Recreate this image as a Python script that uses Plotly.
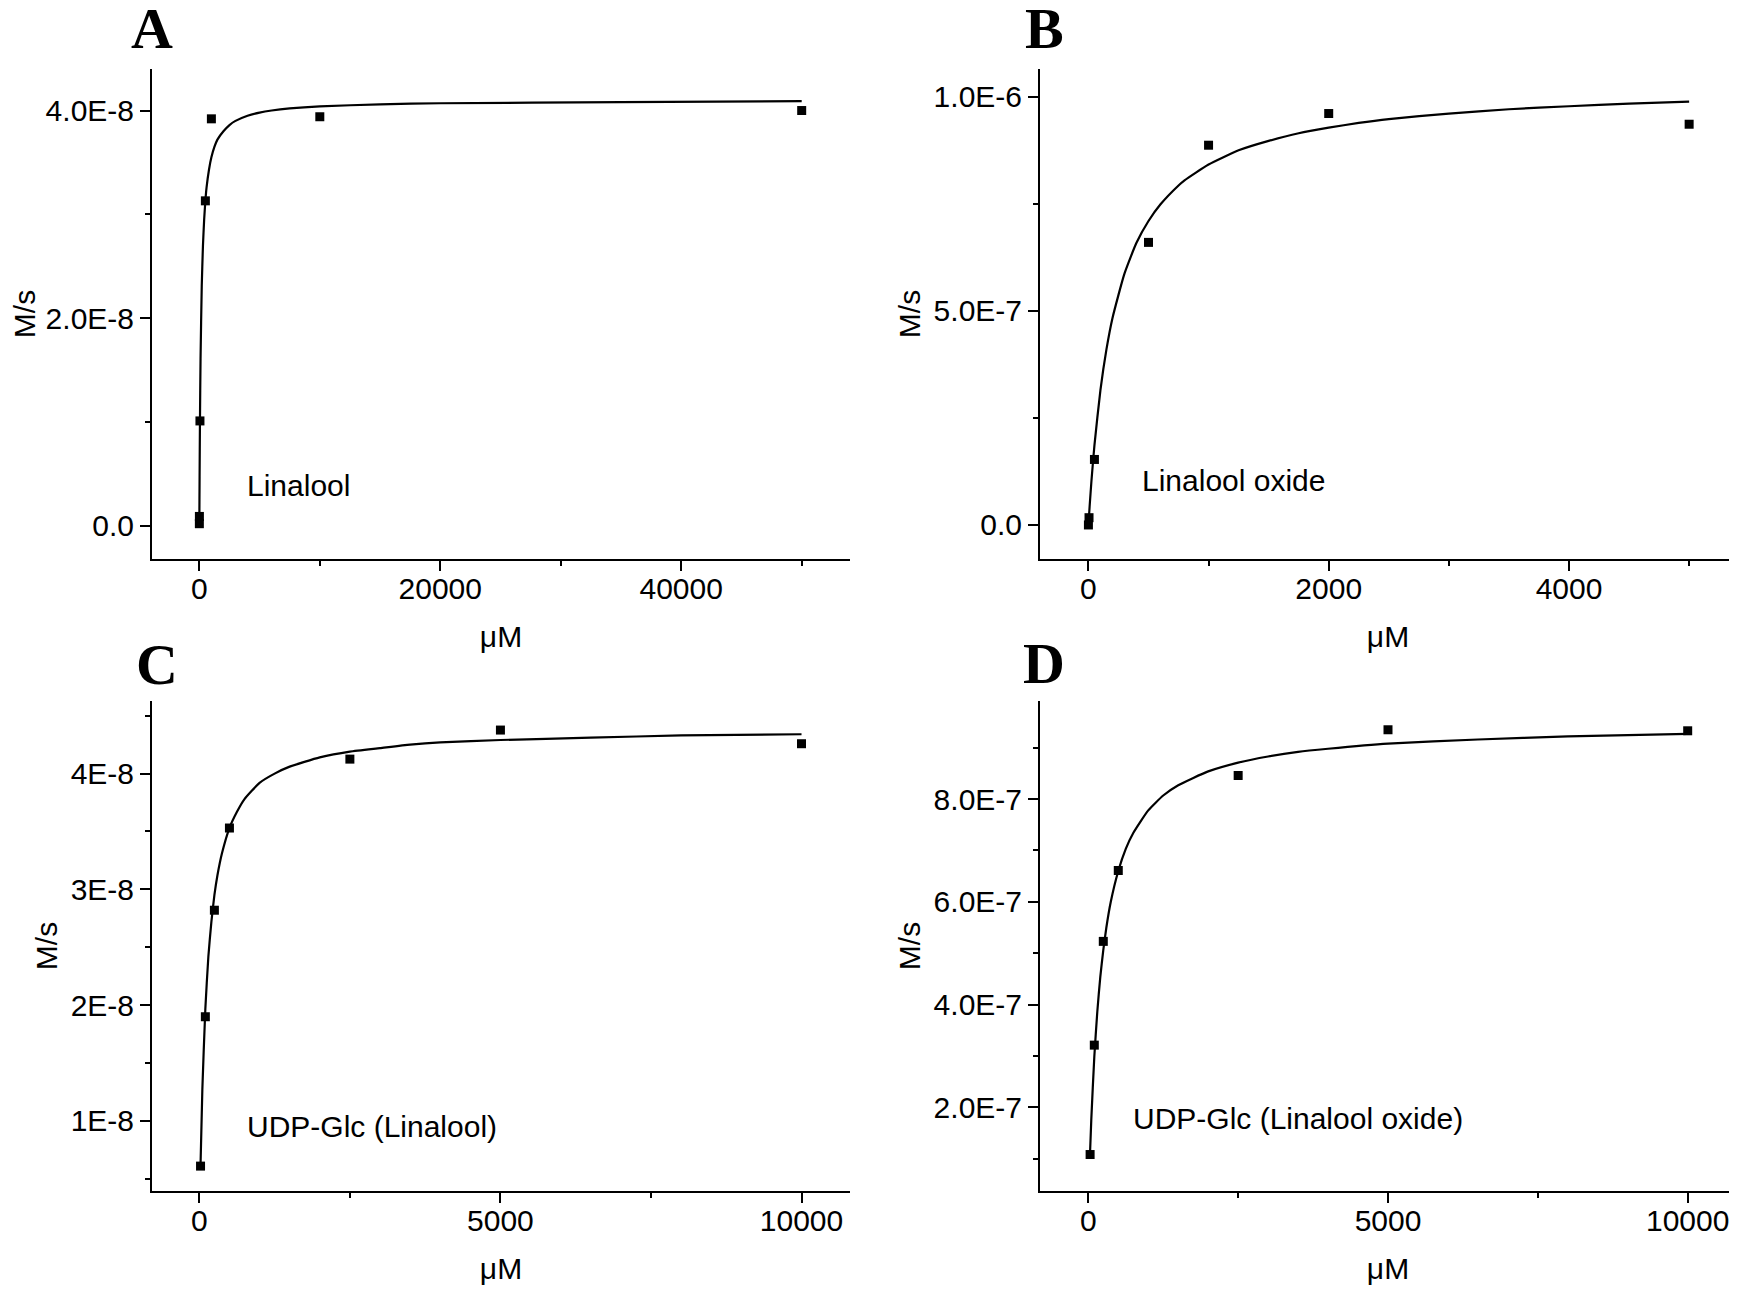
import plotly.graph_objects as go

# ---- data ----
# A: Linalool
a_x = [1, 5, 50, 500, 1000, 10000, 50000]
a_y = [0.02e-8, 0.09e-8, 1.01e-8, 3.13e-8, 3.92e-8, 3.94e-8, 4.00e-8]
a_fit_x = [0, 5, 10, 20, 50, 100, 200, 300, 400, 500, 600, 800, 1000, 1250,
           1500, 2000, 2500, 3000, 4000, 5000, 6000, 7500, 10000, 15000,
           20000, 35000, 50000]
a_fit_y = [0.0, 0.13e-8, 0.25e-8, 0.47e-8, 1.00e-8, 1.61e-8, 2.31e-8, 2.70e-8,
           2.95e-8, 3.13e-8, 3.26e-8, 3.43e-8, 3.55e-8, 3.65e-8, 3.72e-8,
           3.80e-8, 3.86e-8, 3.90e-8, 3.95e-8, 3.98e-8, 4.00e-8, 4.02e-8,
           4.04e-8, 4.06e-8, 4.07e-8, 4.08e-8, 4.09e-8]

# B: Linalool oxide
b_x = [0, 5, 50, 500, 1000, 2000, 5000]
b_y = [0.0, 0.17e-7, 1.53e-7, 6.60e-7, 8.87e-7, 9.61e-7, 9.36e-7]
b_fit_x = [0, 10, 25, 50, 100, 150, 200, 300, 400, 500, 600, 750, 800, 1000,
           1250, 1500, 1750, 2000, 2250, 2500, 3000, 3500, 4000, 4500, 5000]
b_fit_y = [0.0, 0.43e-7, 1.02e-7, 1.86e-7, 3.15e-7, 4.10e-7, 4.83e-7, 5.87e-7,
           6.59e-7, 7.10e-7, 7.49e-7, 7.93e-7, 8.05e-7, 8.42e-7, 8.75e-7,
           8.97e-7, 9.15e-7, 9.28e-7, 9.39e-7, 9.48e-7, 9.61e-7, 9.71e-7,
           9.78e-7, 9.84e-7, 9.89e-7]

# C: UDP-Glc (Linalool)
c_x = [20, 100, 250, 500, 2500, 5000, 10000]
c_y = [0.61e-8, 1.90e-8, 2.82e-8, 3.53e-8, 4.125e-8, 4.376e-8, 4.258e-8]
c_fit_x = [20, 50, 100, 150, 200, 250, 300, 375, 500, 625, 750, 1000, 1250,
           1500, 2000, 2500, 3000, 3500, 4000, 5000, 6500, 8000, 10000]
c_fit_y = [0.62e-8, 1.27e-8, 1.97e-8, 2.42e-8, 2.72e-8, 2.95e-8, 3.12e-8,
           3.31e-8, 3.53e-8, 3.67e-8, 3.78e-8, 3.92e-8, 4.00e-8, 4.06e-8,
           4.14e-8, 4.19e-8, 4.22e-8, 4.25e-8, 4.27e-8, 4.29e-8, 4.31e-8,
           4.33e-8, 4.34e-8]

# D: UDP-Glc (Linalool oxide)
d_x = [30, 100, 250, 500, 2500, 5000, 10000]
d_y = [1.08e-7, 3.21e-7, 5.23e-7, 6.61e-7, 8.46e-7, 9.35e-7, 9.33e-7]
d_fit_x = [30, 50, 100, 150, 200, 250, 300, 375, 500, 625, 750, 1000, 1250,
           1500, 2000, 2500, 3000, 3500, 4000, 5000, 6500, 8000, 10000]
d_fit_y = [1.15e-7, 1.77e-7, 2.98e-7, 3.86e-7, 4.54e-7, 5.06e-7, 5.49e-7,
           6.00e-7, 6.60e-7, 7.03e-7, 7.34e-7, 7.78e-7, 8.07e-7, 8.27e-7,
           8.54e-7, 8.71e-7, 8.83e-7, 8.92e-7, 8.98e-7, 9.08e-7, 9.16e-7,
           9.22e-7, 9.27e-7]

panel_letters = ["A", "B", "C", "D"]
panel_labels = ["Linalool", "Linalool oxide", "UDP-Glc (Linalool)",
                "UDP-Glc (Linalool oxide)"]

a_yticks = [0, 2e-8, 4e-8]
a_yticktext = ["0.0", "2.0E-8", "4.0E-8"]
b_yticks = [0, 5e-7, 1e-6]
b_yticktext = ["0.0", "5.0E-7", "1.0E-6"]
c_yticks = [1e-8, 2e-8, 3e-8, 4e-8]
c_yticktext = ["1E-8", "2E-8", "3E-8", "4E-8"]
d_yticks = [2e-7, 4e-7, 6e-7, 8e-7]
d_yticktext = ["2.0E-7", "4.0E-7", "6.0E-7", "8.0E-7"]

# the html page puts the plot 8px in from the top-left corner
OFF = 8
W, H = 1737 - OFF, 1290 - OFF
FONT = "Liberation Sans, Arial, sans-serif"


def px_x(v):
    return (v - OFF) / W


def px_y(v):
    return 1 - (v - OFF) / H


fig = go.Figure()

series = [(a_x, a_y, a_fit_x, a_fit_y), (b_x, b_y, b_fit_x, b_fit_y),
          (c_x, c_y, c_fit_x, c_fit_y), (d_x, d_y, d_fit_x, d_fit_y)]

for i, (px, py, fx, fy) in enumerate(series):
    ax = "" if i == 0 else str(i + 1)
    fig.add_trace(go.Scatter(x=fx, y=fy, mode="lines",
                             line=dict(color="black", width=2.2, shape="spline",
                                       smoothing=0.5),
                             xaxis="x" + ax, yaxis="y" + ax, showlegend=False))
    fig.add_trace(go.Scatter(x=px, y=py, mode="markers",
                             marker=dict(symbol="square", size=9, color="black"),
                             xaxis="x" + ax, yaxis="y" + ax, showlegend=False))

# pixel boxes of the four plots in the reference (left, right, top, bottom)
boxes = [(152, 850, 69, 559), (1040, 1736, 69, 559),
         (152, 850, 701, 1191), (1040, 1736, 701, 1191)]

xranges = [[-3930, 54010], [-403, 5390], [-786, 10805], [-806, 10806]]
yranges = [[-0.32e-8, 4.40e-8], [-0.0795e-6, 1.065e-6],
           [0.395e-8, 4.627e-8], [0.37e-7, 9.91e-7]]
xticks = [[0, 20000, 40000], [0, 2000, 4000], [0, 5000, 10000], [0, 5000, 10000]]
xminor = [[10000, 30000, 50000], [1000, 3000, 5000], [2500, 7500], [2500, 7500]]
yticks = [a_yticks, b_yticks, c_yticks, d_yticks]
yticktext = [a_yticktext, b_yticktext, c_yticktext, d_yticktext]
yminor = [[1e-8, 3e-8], [2.5e-7, 7.5e-7],
          [0.5e-8, 1.5e-8, 2.5e-8, 3.5e-8, 4.5e-8],
          [1e-7, 3e-7, 5e-7, 7e-7, 9e-7]]

axis_common = dict(showline=True, linecolor="black", linewidth=2,
                   ticks="outside", ticklen=10, tickwidth=2, tickcolor="black",
                   showgrid=False, zeroline=False, mirror=False,
                   tickfont=dict(family=FONT, size=30, color="black"))

layout = {}
for i, (l, r, t, b) in enumerate(boxes):
    ax = "" if i == 0 else str(i + 1)
    layout["xaxis" + ax] = dict(
        axis_common, domain=[px_x(l), min(px_x(r), 1)], anchor="y" + ax,
        range=xranges[i], tickmode="array", tickvals=xticks[i],
        ticktext=[str(v) for v in xticks[i]], ticklabelstandoff=-8,
        minor=dict(tickvals=xminor[i], ticks="outside", ticklen=5,
                   tickwidth=2, tickcolor="black"),
        title=dict(text="μM", font=dict(family=FONT, size=30, color="black"),
                   standoff=22))
    layout["yaxis" + ax] = dict(
        axis_common, domain=[px_y(b), px_y(t)], anchor="x" + ax,
        range=yranges[i], tickmode="array", tickvals=yticks[i],
        ticktext=yticktext[i],
        minor=dict(tickvals=yminor[i], ticks="outside", ticklen=5,
                   tickwidth=2, tickcolor="black"),
        title=dict(text="M/s", font=dict(family=FONT, size=30, color="black"),
                   standoff=4))

fig.update_layout(**layout)

# panel letters and curve labels
letter_pos = [(152, 29), (1044, 29), (157, 665), (1044, 663)]
label_pos = [(245, 486), (1140, 480), (245, 1126), (1131, 1118)]
annotations = []
for i in range(4):
    lx, ly = letter_pos[i]
    annotations.append(dict(text="<b>" + panel_letters[i] + "</b>",
                            x=px_x(lx), y=px_y(ly), xref="paper", yref="paper",
                            xanchor="center", yanchor="middle", showarrow=False,
                            font=dict(family="Liberation Serif, Times New Roman, serif",
                                      size=58, color="black")))
    tx, ty = label_pos[i]
    annotations.append(dict(text=panel_labels[i], x=px_x(tx), y=px_y(ty),
                            xref="paper", yref="paper", xanchor="left",
                            yanchor="middle", showarrow=False,
                            font=dict(family=FONT, size=30, color="black")))

fig.update_layout(
    width=W, height=H,
    margin=dict(l=0, r=0, t=0, b=0),
    paper_bgcolor="white", plot_bgcolor="white",
    annotations=annotations,
    showlegend=False,
)

fig.write_html("out.html")
